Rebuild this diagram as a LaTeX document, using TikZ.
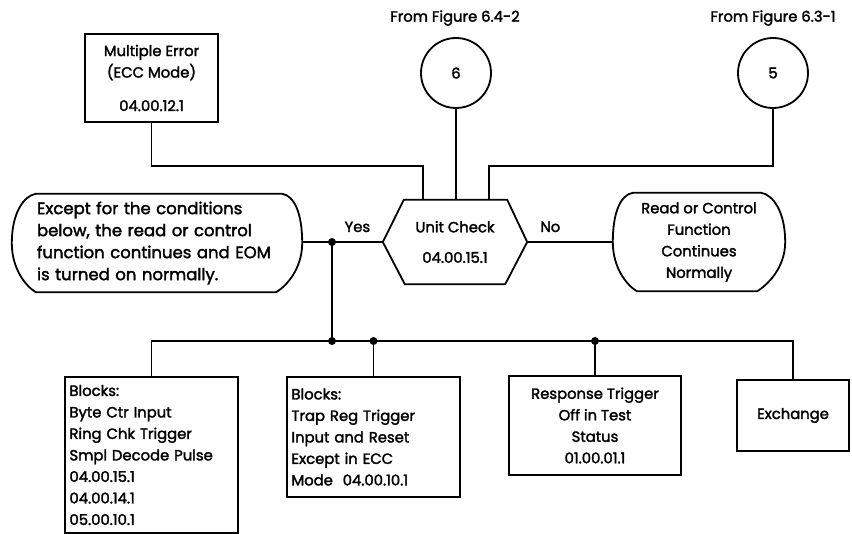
\documentclass[tikz,border=0pt]{standalone}
\usepackage{fontspec}
\setmainfont{Poppins}[FakeBold=2]
\usetikzlibrary{calc}
\newcommand{\chartfont}{\fontsize{14.8}{21.5}\selectfont}
\newcommand{\notefont}{\fontsize{16.5}{22}\selectfont}
\tikzset{
	wire/.style={line width=1.8pt},
	blk/.style={draw,line width=1.8pt,rectangle,inner sep=4pt,font=\chartfont},
	txt/.style={inner sep=0pt,font=\chartfont},
	conn/.style={draw,line width=1.8pt,circle,minimum size=70pt,font=\chartfont},
	dot/.style={circle,fill,inner sep=0pt,minimum size=8pt}
}
\begin{document}
\begin{tikzpicture}[x=1pt,y=-1pt]
			\useasboundingbox (0,0) rectangle (852,534);
			\node[txt] (f6) at (455,18) {From Figure 6.4-2};
			\node[txt] (f5) at (773,18) {From Figure 6.3-1};
			\node[conn] (c6) at (456,73) {6};
			\node[conn] (c5) at (773,73) {5};
			\node[blk,minimum width=133pt,minimum height=88pt,align=center] (me) at (151.5,78) {Multiple Error\\(ECC Mode)\\[12pt]04.00.12.1};
			\node[txt,minimum width=144pt,minimum height=84pt,align=center] (uc) at (455,242) {Unit Check\\[9pt]04.00.15.1};
			\draw[wire] (uc.west) -- ($(uc.north west)+(21,0)$) -- ($(uc.north east)+(-20,0)$) -- (uc.east) -- ($(uc.south east)+(-22,0)$) -- ($(uc.south west)+(22,0)$) -- cycle;
			\node[txt,minimum width=290pt,minimum height=98pt,text width=240pt,align=left,font=\notefont] (cont) at (157,243) {Except for the conditions\\below, the read or control\\function continues and EOM\\is turned on normally.};
			\draw[wire] ($(cont.north west)+(24,0)$) -- ($(cont.north east)+(-20,0)$)
				.. controls +(12,2) and +(0,-30) .. (cont.east)
				.. controls +(0,26) and +(10,-6) .. ($(cont.south east)+(-26,0)$)
				-- ($(cont.south west)+(24,0)$)
				.. controls +(-10,-6) and +(0,26) .. (cont.west)
				.. controls +(0,-30) and +(-12,2) .. cycle;
			\node[txt,minimum width=172pt,minimum height=98pt,align=center] (norm) at (699,242) {Read or Control\\Function\\Continues\\Normally};
			\draw[wire] ($(norm.north west)+(20,0)$) -- ($(norm.north east)+(-24,0)$)
				.. controls +(12,2) and +(0,-30) .. (norm.east)
				.. controls +(0,26) and +(10,-6) .. ($(norm.south east)+(-28,0)$)
				-- ($(norm.south west)+(24,0)$)
				.. controls +(-10,-6) and +(0,26) .. (norm.west)
				.. controls +(0,-30) and +(-12,2) .. cycle;
			\node[blk,minimum width=173pt,minimum height=156pt,text width=164pt,align=left] (ba) at (151.5,455) {Blocks:\\Byte Ctr Input\\Ring Chk Trigger\\Smpl Decode Pulse\\04.00.15.1\\04.00.14.1\\05.00.10.1};
			\node[blk,minimum width=173pt,minimum height=120pt,text width=164pt,align=left] (bb) at (373.5,437) {Blocks:\\Trap Reg Trigger\\Input and Reset\\Except in ECC\\Mode~~04.00.10.1};
			\node[blk,minimum width=172pt,minimum height=99pt,align=center] (bc) at (595,425.5) {Response Trigger\\Off in Test\\Status\\01.00.01.1};
			\node[blk,minimum width=112pt,minimum height=71pt] (bd) at (793,415.5) {Exchange};
			\draw[wire] (me.south) -- ++(0,43) -| ([xshift=-32pt]uc.north);
			\draw[wire] (c6.south) -- (c6.south |- uc.north);
			\draw[wire] (c5.south) -- ++(0,57) -| ([xshift=34pt]uc.north);
			\coordinate (yj) at (332,242);
			\coordinate (bj) at (332,341);
			\draw[wire] (cont.east |- yj) -- (yj) -- node[txt,above=9pt] {Yes} (uc.west);
			\draw[wire] (uc.east) -- node[txt,above=9pt,pos=0.27] {No} (norm.west);
			\draw[wire] (yj) -- (bj);
			\draw[wire] (bj) -| (ba.north);
			\draw[wire] (bj) -| (bd.north);
			\draw[wire] (bb.north) -- (bb.north |- bj);
			\draw[wire] (bc.north) -- (bc.north |- bj);
			\node[dot] at (yj) {};
			\node[dot] at (bj) {};
			\node[dot] at (bb.north |- bj) {};
			\node[dot] at (bc.north |- bj) {};
		\end{tikzpicture}
\end{document}
